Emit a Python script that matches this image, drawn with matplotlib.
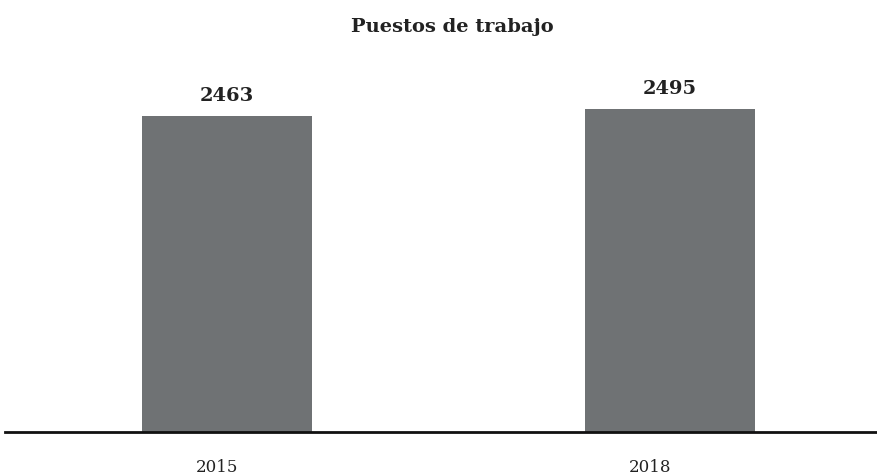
"""Puestos de trabajo: bar chart 2015 vs 2018."""

import matplotlib as mpl

mpl.use("Agg")
import matplotlib.pyplot as plt
from matplotlib.transforms import ScaledTranslation

years = ["2015", "2018"]
jobs = [2463, 2495]

BAR_COLOR = "#6f7274"
TEXT_COLOR = "#222222"

plt.rcParams["font.family"] = ["DejaVu Serif"]

fig = plt.figure(figsize=(8.78, 4.77), dpi=100)
ax = fig.add_axes([0.0057, 0.0922, 0.9943, 0.782])

x = list(range(len(years)))
ax.bar(x, jobs, width=0.384, color=BAR_COLOR, zorder=2)

for xi, v in zip(x, jobs):
    ax.annotate(str(v), (xi, v), xytext=(0, 9), textcoords="offset points",
                ha="center", va="bottom", fontsize=14, fontweight="bold",
                color=TEXT_COLOR)

ax.set_xlim(-0.501, 1.47)
# value axis does not start at zero in the source chart
ax.set_ylim(1000, 2727)

# baseline only, no other frame
for side in ["top", "right", "left"]:
    ax.spines[side].set_visible(False)
ax.spines["bottom"].set_linewidth(2)
ax.spines["bottom"].set_color("#111111")
ax.spines["bottom"].set_zorder(3)

ax.set_yticks([])
ax.set_xticks(x)
ax.set_xticklabels(years, fontsize=12, color=TEXT_COLOR)
ax.tick_params(axis="x", length=0, pad=19)

# year labels sit a little left of the bar centres in the original
for lbl, dx in zip(ax.get_xticklabels(), [-0.10, -0.20]):
    lbl.set_transform(lbl.get_transform() + ScaledTranslation(dx, 0, fig.dpi_scale_trans))

fig.text(0.515, 0.943, "Puestos de trabajo", ha="center", va="center",
         fontsize=14, fontweight="bold", color=TEXT_COLOR)

fig.savefig("out.png", dpi=100)
plt.close(fig)
